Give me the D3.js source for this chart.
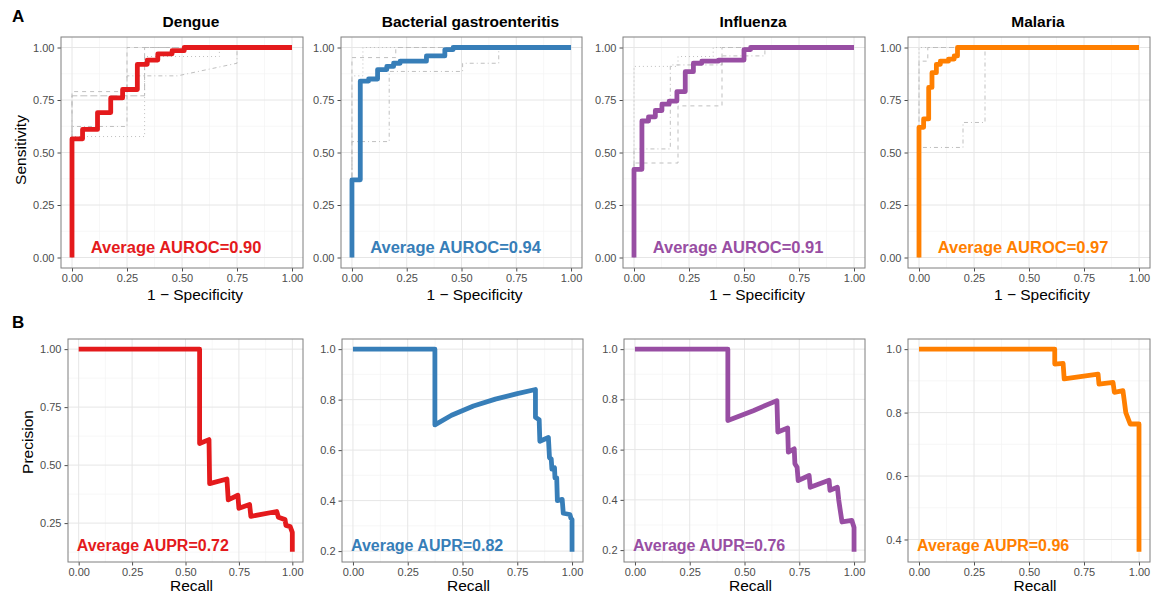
<!DOCTYPE html>
<html>
<head>
<meta charset="utf-8">
<script src="https://cdn.jsdelivr.net/npm/d3@7"></script>
<style>
  body { margin: 0; background: #fff; }
  text { font-family: "Liberation Sans", Arial, Helvetica, sans-serif; }
</style>
</head>
<body>
<svg id="chart" width="1151" height="595"></svg>
<script>
// ---- data ----
const diseases = ["Dengue", "Bacterial gastroenteritis", "Influenza", "Malaria"];
const colors = ["#E41A1C", "#377EB8", "#984EA3", "#FF7F00"];
const auroc = ["0.90", "0.94", "0.91", "0.97"];
const aupr = ["0.72", "0.82", "0.76", "0.96"];

const xTicks = [0, 0.25, 0.5, 0.75, 1];
const rocYTicks = [0, 0.25, 0.5, 0.75, 1];
const prYTicks = [
  [0.25, 0.5, 0.75, 1],
  [0.2, 0.4, 0.6, 0.8, 1],
  [0.2, 0.4, 0.6, 0.8, 1],
  [0.4, 0.6, 0.8, 1]
];
const prYFormat = [".2f", ".1f", ".1f", ".1f"];

// average ROC curves (corner points, drawn as step-before)
const dengueFpr = [0, 0.048, 0.116, 0.176, 0.23, 0.297, 0.342, 0.39, 0.455, 0.51, 1];
const dengueTpr = [0, 0.565, 0.61, 0.69, 0.76, 0.80, 0.92, 0.94, 0.97, 0.985, 1];
const bacterialFpr = [0, 0.038, 0.076, 0.117, 0.159, 0.19, 0.22, 0.34, 0.424, 0.462, 1];
const bacterialTpr = [0, 0.37, 0.84, 0.85, 0.895, 0.91, 0.925, 0.935, 0.96, 0.99, 1];
const influenzaFpr = [0, 0.036, 0.066, 0.097, 0.127, 0.16, 0.195, 0.233, 0.27, 0.308, 0.384, 0.50, 0.53, 1];
const influenzaTpr = [0, 0.42, 0.65, 0.67, 0.70, 0.73, 0.745, 0.79, 0.885, 0.925, 0.935, 0.94, 0.99, 1];
const malariaFpr = [0, 0.021, 0.044, 0.059, 0.079, 0.097, 0.134, 0.16, 0.175, 1];
const malariaTpr = [0, 0.62, 0.66, 0.81, 0.88, 0.92, 0.935, 0.945, 0.96, 1];

// individual fold curves (gray), [fpr, tpr] vertices
const dengueFolds = [
  [[0, 0], [0, 0.79], [0.25, 0.79], [0.25, 1], [1, 1]],
  [[0, 0], [0, 0.576], [0.33, 0.576], [0.33, 0.957], [0.67, 0.957], [0.67, 1], [1, 1]],
  [[0, 0], [0, 0.624], [0.25, 0.624], [0.25, 0.865], [0.48, 0.865], [0.75, 0.925], [0.75, 1], [1, 1]],
  [[0, 0], [0, 0.77], [0.33, 0.77], [0.33, 1], [1, 1]]
];
const bacterialFolds = [
  [[0, 0], [0, 0.952], [0.2, 0.952], [0.2, 1], [1, 1]],
  [[0, 0], [0, 0.865], [0.05, 0.865], [0.05, 1], [1, 1]],
  [[0, 0], [0, 0.552], [0.17, 0.552], [0.17, 0.886], [0.505, 0.886], [0.505, 0.925], [0.67, 0.925], [0.67, 1], [1, 1]]
];
const influenzaFolds = [
  [[0, 0], [0, 0.45], [0.2, 0.45], [0.2, 0.722], [0.40, 0.722], [0.40, 1], [1, 1]],
  [[0, 0], [0, 0.91], [0.2, 0.91], [0.2, 0.957], [0.36, 0.957], [0.36, 1], [1, 1]],
  [[0, 0], [0, 0.517], [0.165, 0.517], [0.165, 0.917], [0.40, 0.917], [0.40, 0.96], [0.595, 0.96], [0.595, 1], [1, 1]]
];
const malariaFolds = [
  [[0, 0], [0, 0.935], [0.04, 0.935], [0.04, 1], [1, 1]],
  [[0, 0], [0, 1], [1, 1]],
  [[0, 0], [0, 0.524], [0.2, 0.524], [0.2, 0.643], [0.30, 0.643], [0.30, 1], [1, 1]]
];

// average precision-recall curves
const dengueRecall = [0, 0.566, 0.566, 0.61, 0.613, 0.694, 0.70, 0.745, 0.75, 0.8, 0.806, 0.927, 0.935, 0.966, 0.97, 0.99, 1, 1];
const denguePrecision = [1, 1, 0.593, 0.61, 0.42, 0.44, 0.35, 0.37, 0.314, 0.33, 0.279, 0.30, 0.275, 0.265, 0.24, 0.235, 0.21, 0.126];
const bacterialRecall = [0, 0.374, 0.374, 0.45, 0.55, 0.65, 0.75, 0.833, 0.833, 0.85, 0.853, 0.892, 0.897, 0.905, 0.908, 0.92, 0.922, 0.93, 0.933, 0.955, 0.96, 0.99, 0.995, 1, 1];
const bacterialPrecision = [1, 1, 0.70, 0.738, 0.775, 0.802, 0.824, 0.84, 0.73, 0.72, 0.635, 0.65, 0.57, 0.565, 0.525, 0.53, 0.49, 0.49, 0.40, 0.405, 0.35, 0.345, 0.33, 0.325, 0.197];
const influenzaRecall = [0, 0.424, 0.424, 0.54, 0.648, 0.652, 0.697, 0.70, 0.727, 0.73, 0.74, 0.745, 0.795, 0.80, 0.886, 0.89, 0.924, 0.93, 0.935, 0.945, 0.99, 1, 1];
const influenzaPrecision = [1, 1, 0.716, 0.755, 0.795, 0.67, 0.686, 0.59, 0.603, 0.544, 0.53, 0.477, 0.497, 0.45, 0.478, 0.438, 0.45, 0.40, 0.37, 0.312, 0.318, 0.29, 0.193];
const malariaRecall = [0, 0.617, 0.617, 0.655, 0.66, 0.814, 0.818, 0.882, 0.888, 0.927, 0.932, 0.94, 0.96, 1, 1];
const malariaPrecision = [1, 1, 0.953, 0.955, 0.906, 0.921, 0.89, 0.895, 0.864, 0.869, 0.843, 0.80, 0.764, 0.764, 0.361];

const rocX = [dengueFpr, bacterialFpr, influenzaFpr, malariaFpr];
const rocY = [dengueTpr, bacterialTpr, influenzaTpr, malariaTpr];
const folds = [dengueFolds, bacterialFolds, influenzaFolds, malariaFolds];
const prX = [dengueRecall, bacterialRecall, influenzaRecall, malariaRecall];
const prY = [denguePrecision, bacterialPrecision, influenzaPrecision, malariaPrecision];

// ---- layout ----
const rocLeft = [61, 341, 623, 908], rocRight = [303, 582, 865, 1150];
const prLeft = [68, 342, 624, 908], prRight = [303, 583, 865, 1150];
const rocTop = 37, rocBottom = 268, prTop = 339, prBottom = 562;
const foldDash = ["4,4", "1,3", "1,3,4,3", "7,3"];

const svg = d3.select("#chart");

// minor grid positions: halfway between breaks, kept inside the domain
function minorOf(ticks, domain) {
  const step = ticks[1] - ticks[0];
  const m = ticks.map(t => t - step / 2).concat([ticks[ticks.length - 1] + step / 2]);
  return m.filter(v => v > domain[0] && v < domain[1]);
}

function drawPanel(p) {
  const x = d3.scaleLinear().domain([-0.05, 1.05]).range([p.left, p.right]);
  const y = d3.scaleLinear().domain(p.yDomain).range([p.bottom, p.top]);
  const g = svg.append("g");

  // grid
  const grid = g.append("g");
  minorOf(xTicks, x.domain()).forEach(v => {
    grid.append("line").attr("x1", x(v)).attr("x2", x(v)).attr("y1", p.top).attr("y2", p.bottom)
      .attr("stroke", "#f3f3f3").attr("stroke-width", 0.7);
  });
  minorOf(p.yTicks, p.yDomain).forEach(v => {
    grid.append("line").attr("x1", p.left).attr("x2", p.right).attr("y1", y(v)).attr("y2", y(v))
      .attr("stroke", "#f3f3f3").attr("stroke-width", 0.7);
  });
  xTicks.forEach(v => {
    grid.append("line").attr("x1", x(v)).attr("x2", x(v)).attr("y1", p.top).attr("y2", p.bottom)
      .attr("stroke", "#e6e6e6").attr("stroke-width", 1);
  });
  p.yTicks.forEach(v => {
    grid.append("line").attr("x1", p.left).attr("x2", p.right).attr("y1", y(v)).attr("y2", y(v))
      .attr("stroke", "#e6e6e6").attr("stroke-width", 1);
  });

  // axes
  const ax = g.append("g").attr("transform", "translate(0," + p.bottom + ")")
    .call(d3.axisBottom(x).tickValues(xTicks).tickFormat(d3.format(".2f")).tickSize(3.5).tickPadding(3));
  const ay = g.append("g").attr("transform", "translate(" + p.left + ",0)")
    .call(d3.axisLeft(y).tickValues(p.yTicks).tickFormat(d3.format(p.yFmt)).tickSize(3.5).tickPadding(3));
  [ax, ay].forEach(a => {
    a.select(".domain").remove();
    a.selectAll(".tick line").attr("stroke", "#4d4d4d");
    a.selectAll(".tick text").attr("fill", "#4d4d4d").style("font-size", "11px")
      .style("font-family", '"Liberation Sans", Arial, sans-serif');
  });

  // gray fold curves
  if (p.folds) {
    const fl = d3.line().x(d => x(d[0])).y(d => y(d[1]));
    p.folds.forEach((f, i) => {
      g.append("path").attr("d", fl(f)).attr("fill", "none")
        .attr("stroke", "#b8b8b8").attr("stroke-width", 0.9)
        .attr("stroke-dasharray", foldDash[i % foldDash.length]);
    });
  }

  // main curve
  const pts = p.xs.map((v, i) => [v, p.ys[i]]);
  const line = d3.line().x(d => x(d[0])).y(d => y(d[1])).curve(p.step ? d3.curveStepBefore : d3.curveLinear);
  g.append("path").attr("d", line(pts)).attr("fill", "none")
    .attr("stroke", p.color).attr("stroke-width", 4.8)
    .attr("stroke-linejoin", "round").attr("stroke-linecap", "butt");

  // panel border
  g.append("rect").attr("x", p.left).attr("y", p.top)
    .attr("width", p.right - p.left).attr("height", p.bottom - p.top)
    .attr("fill", "none").attr("stroke", "#7f7f7f").attr("stroke-width", 1);

  return { x: x, y: y, g: g };
}

diseases.forEach((name, i) => {
  // ---- row A: ROC ----
  const a = drawPanel({
    left: rocLeft[i], right: rocRight[i], top: rocTop, bottom: rocBottom,
    yDomain: [-0.05, 1.05], yTicks: rocYTicks, yFmt: ".2f",
    xs: rocX[i], ys: rocY[i], step: true, folds: folds[i], color: colors[i]
  });
  const cx = (rocLeft[i] + rocRight[i]) / 2;
  svg.append("text").attr("x", cx + 9).attr("y", 27).attr("text-anchor", "middle")
    .style("font-size", "15.5px").style("font-weight", "bold").text(name);
  svg.append("text").attr("x", cx + 13).attr("y", 300).attr("text-anchor", "middle")
    .style("font-size", "15.5px").text("1 \u2212 Specificity");
  a.g.append("text").attr("x", a.x(0.473)).attr("y", a.y(0.05)).attr("dy", "0.35em")
    .attr("text-anchor", "middle").attr("fill", colors[i])
    .style("font-size", "16.5px").style("font-weight", "bold")
    .text("Average AUROC=" + auroc[i]);

  // ---- row B: precision-recall ----
  const lo = d3.min(prY[i]), hi = d3.max(prY[i]);
  const pad = (hi - lo) * 0.05;
  const b = drawPanel({
    left: prLeft[i], right: prRight[i], top: prTop, bottom: prBottom,
    yDomain: [lo - pad, hi + pad], yTicks: prYTicks[i], yFmt: prYFormat[i],
    xs: prX[i], ys: prY[i], step: false, color: colors[i]
  });
  svg.append("text").attr("x", (prLeft[i] + prRight[i]) / 2 + 6).attr("y", 590.5)
    .attr("text-anchor", "middle").style("font-size", "15.5px").text("Recall");
  b.g.append("text").attr("x", b.x(0) - 2).attr("y", b.y(lo) - 1)
    .attr("fill", colors[i]).style("font-size", "16px").style("font-weight", "bold")
    .text("Average AUPR=" + aupr[i]);
});

// y axis titles and panel tags
svg.append("text").attr("transform", "translate(26,150) rotate(-90)").attr("text-anchor", "middle")
  .style("font-size", "15.5px").text("Sensitivity");
svg.append("text").attr("transform", "translate(32.5,442) rotate(-90)").attr("text-anchor", "middle")
  .style("font-size", "15.5px").text("Precision");
svg.append("text").attr("x", 12).attr("y", 22).style("font-size", "17px").style("font-weight", "bold").text("A");
svg.append("text").attr("x", 12).attr("y", 328).style("font-size", "17px").style("font-weight", "bold").text("B");
</script>
</body>
</html>
